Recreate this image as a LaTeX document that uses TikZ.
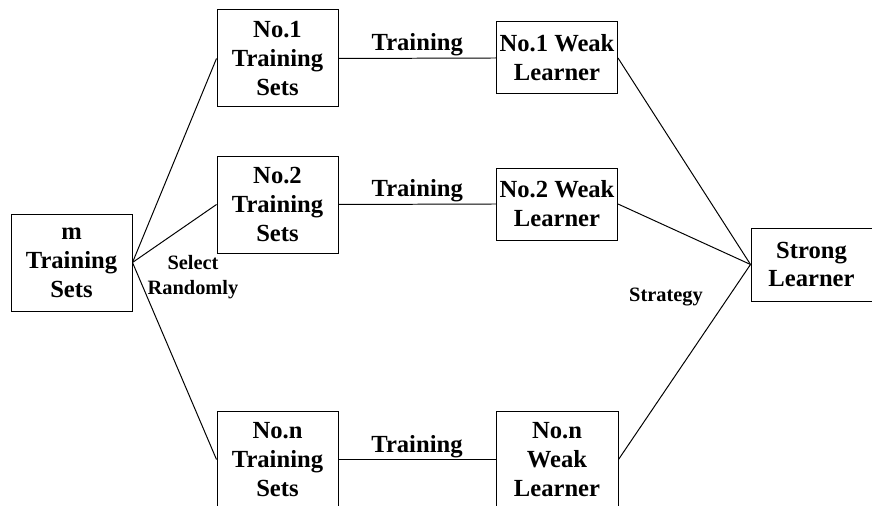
\documentclass[tikz,border=0pt]{standalone}
\usepackage{fontspec}
\setmainfont{Liberation Serif}
\usepackage{xcolor}

\tikzset{
  setbox/.style={draw, line width=0.7pt, align=center, inner sep=0pt,
    minimum width=3.025cm, minimum height=2.425cm,
    font=\bfseries\fontsize{17.5}{20.6}\selectfont},
  learnerbox/.style={setbox, minimum height=1.8cm},
  tag/.style={inner sep=1pt, align=center,
    font=\bfseries\fontsize{17.5}{20.6}\selectfont},
  smalltag/.style={tag, font=\bfseries\fontsize{14.5}{17.5}\selectfont},
  link/.style={line width=0.7pt}
}

\begin{document}
\begin{tikzpicture}
  \useasboundingbox (0,0) rectangle (21.8,12.65);

  \node[setbox] (m) at (1.7875,6.0875) {m\\Training\\Sets};

  \node[setbox] (t1) at (6.9375,11.1875) {No.1\\Training\\Sets};
  \node[setbox] (t2) at (6.9375,7.5375) {No.2\\Training\\Sets};
  \node[setbox] (tn) at (6.9375,1.1625) {No.n\\Training\\Sets};

  \node[learnerbox] (w1) at (13.925,11.2) {No.1 Weak\\Learner};
  \node[learnerbox] (w2) at (13.925,7.55) {No.2 Weak\\Learner};
  \node[setbox, minimum width=3.05cm] (wn) at (13.925,1.1625) {No.n\\Weak\\Learner};

  \node[learnerbox, minimum height=1.825cm] (s) at (20.2875,6.0375) {Strong\\Learner};

  \foreach \i in {1,2,n}
    \draw[link] (m.east) -- (t\i.west);
  \foreach \i in {1,2,n}
    \draw[link] (t\i.east) -- node[tag, midway, above] {Training} (w\i.west);
  \foreach \i in {1,2,n}
    \draw[link] (w\i.east) -- (s.west);

  \node[smalltag] (pick) at (4.825,5.725) {Select\\Randomly};
  \node[smalltag] (vote) at (16.65,5.225) {Strategy};
\end{tikzpicture}
\end{document}
